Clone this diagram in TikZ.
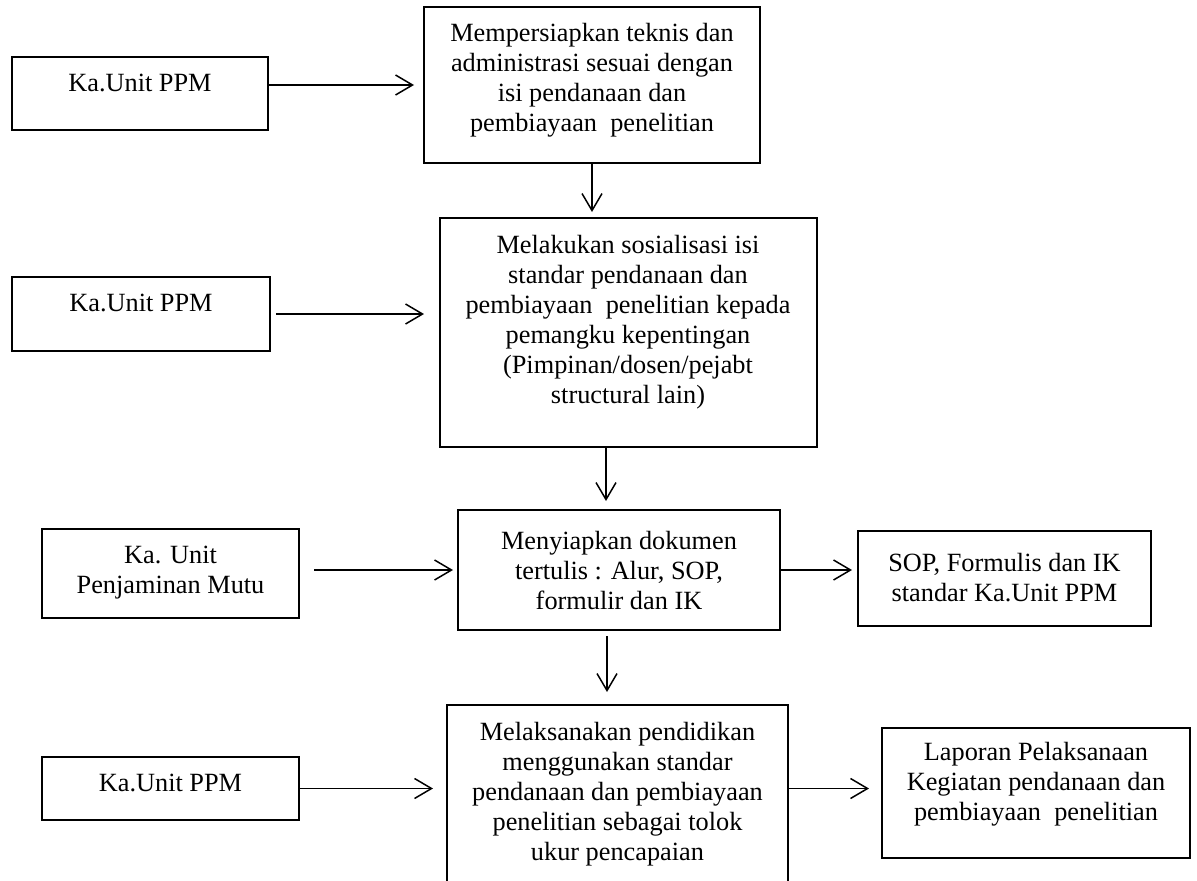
\documentclass[tikz,border=0pt]{standalone}
\usepackage{fontspec}
\setmainfont{Liberation Serif}
\usetikzlibrary{arrows.meta}
\begin{document}
\begin{tikzpicture}[x=1pt,y=-1pt,
  box/.style={draw, line width=2pt, inner sep=0pt, rectangle},
  txt/.style={align=center, inner sep=0pt, font=\fontsize{26.3}{30}\selectfont},
  arr/.style={line width=1.5pt, -{Straight Barb[length=17pt,width=20pt]}}]
\path[use as bounding box] (0,0) rectangle (1197,881);
\clip (0,0) rectangle (1197,881);
% boxes
\node[box, minimum width=256pt, minimum height=73pt] (A1) at (140,93.5) {};
\node[box, minimum width=336pt, minimum height=156pt] (B1) at (592,85) {};
\node[box, minimum width=258pt, minimum height=74pt] (A2) at (141,314) {};
\node[box, minimum width=377pt, minimum height=229pt] (B2) at (628.5,332.5) {};
\node[box, minimum width=257pt, minimum height=89pt] (A3) at (170.5,573.5) {};
\node[box, minimum width=322pt, minimum height=120pt] (B3) at (619,570) {};
\node[box, minimum width=293pt, minimum height=95pt] (C3) at (1004.5,578.5) {};
\node[box, minimum width=257pt, minimum height=63pt] (A4) at (170.5,788.5) {};
\node[box, minimum width=341pt, minimum height=182pt] (B4) at (617.5,796) {};
\node[box, minimum width=308pt, minimum height=130pt] (C4) at (1036,793) {};
% texts
\node[txt] (A1t) at (140,83) {Ka.Unit PPM};
\node[txt] (B1t) at (592,80.5) {Mempersiapkan teknis dan\\administrasi sesuai dengan\\isi pendanaan dan\\pembiayaan\ \ penelitian};
\node[txt] (A2t) at (141,303) {Ka.Unit PPM};
\node[txt] (B2t) at (628,322.5) {Melakukan sosialisasi isi\\standar pendanaan dan\\pembiayaan\ \ penelitian kepada\\pemangku kepentingan\\(Pimpinan/dosen/pejabt\\structural lain)};
\node[txt] (A3t) at (170.5,572.5) {Ka. Unit\\Penjaminan Mutu};
\node[txt] (B3t) at (619,570) {Menyiapkan dokumen\\tertulis : Alur, SOP,\\formulir dan IK};
\node[txt] (C3t) at (1004.5,578) {SOP, Formulis dan IK\\standar Ka.Unit PPM};
\node[txt] (A4t) at (170.5,783) {Ka.Unit PPM};
\node[txt] (B4t) at (617.5,794) {Melaksanakan pendidikan\\menggunakan standar\\pendanaan dan pembiayaan\\penelitian sebagai tolok\\ukur pencapaian};
\node[txt] (C4t) at (1036,784) {Laporan Pelaksanaan\\Kegiatan pendanaan dan\\pembiayaan\ \ penelitian};
% horizontal connectors
\draw[arr, shorten >=9pt] (A1.east |- B1.west) -- (B1.west);
\draw[arr, shorten <=5pt, shorten >=15pt] (A2.east) -- (A2.east -| B2.west);
\draw[arr, shorten <=14pt, shorten >=4pt] (A3.east |- B3.west) -- (B3.west);
\draw[arr, shorten >=5pt] (B3.east) -- (B3.east -| C3.west);
\draw[arr, shorten >=13pt] (A4.east) -- (A4.east -| B4.west);
\draw[arr, shorten >=12pt] (B4.east |- A4.east) -- (C4.west |- A4.east);
% vertical connectors
\draw[arr, shorten >=5pt] (B1.south) -- (B1.south |- B2.north);
\draw[arr, shorten >=8pt] ([xshift=-13pt]B3.north |- B2.south) -- ([xshift=-13pt]B3.north);
\draw[arr, shorten <=5pt, shorten >=12pt] ([xshift=-12pt]B3.south) -- ([xshift=-12pt]B3.south |- B4.north);
\end{tikzpicture}
\end{document}
